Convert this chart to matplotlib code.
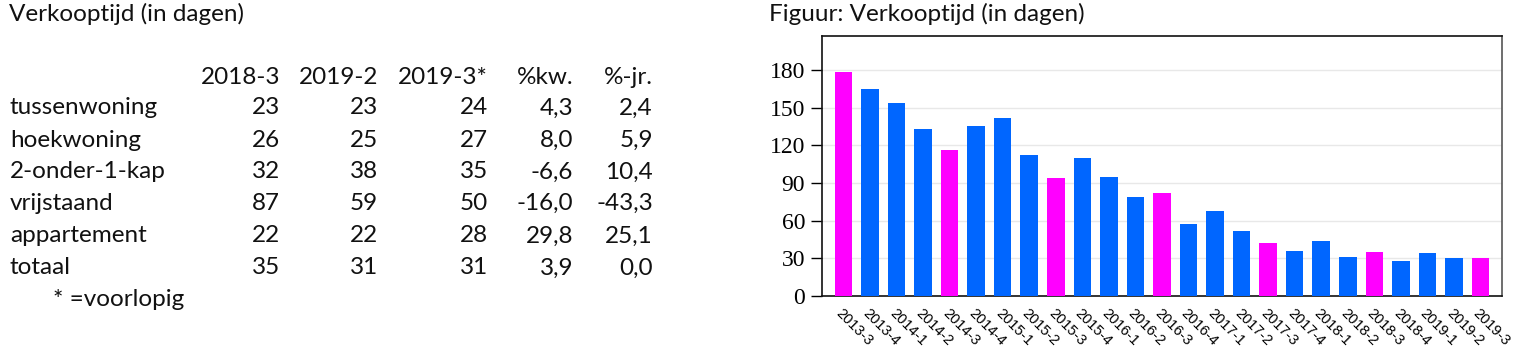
import matplotlib
matplotlib.use("Agg")
import matplotlib.pyplot as plt

# table data
table_cols = ["2018-3", "2019-2", "2019-3*", "%kw.", "%-jr."]
row_labels = ["tussenwoning", "hoekwoning", "2-onder-1-kap", "vrijstaand", "appartement", "totaal"]
col_2018_3 = ["23", "26", "32", "87", "22", "35"]
col_2019_2 = ["23", "25", "38", "59", "22", "31"]
col_2019_3 = ["24", "27", "35", "50", "28", "31"]
col_kw = ["4,3", "8,0", "-6,6", "-16,0", "29,8", "3,9"]
col_jr = ["2,4", "5,9", "10,4", "-43,3", "25,1", "0,0"]

# chart data
quarters = ["2013-3", "2013-4", "2014-1", "2014-2", "2014-3", "2014-4", "2015-1",
            "2015-2", "2015-3", "2015-4", "2016-1", "2016-2", "2016-3", "2016-4",
            "2017-1", "2017-2", "2017-3", "2017-4", "2018-1", "2018-2", "2018-3",
            "2018-4", "2019-1", "2019-2", "2019-3"]
days = [178, 165, 154, 133, 116, 135, 142, 112, 94, 110, 95, 79, 82, 57,
        68, 52, 42, 36, 44, 31, 35, 28, 34, 30, 30]
yticks = [0, 30, 60, 90, 120, 150, 180]

BLUE = "#0066ff"
MAGENTA = "#ff00ff"

W, H = 1516, 351
fig = plt.figure(figsize=(W / 100, H / 100), dpi=100)


def px(x, y):
    return x / W, 1 - y / H


tfont = dict(family=["Lato", "DejaVu Sans"], fontsize=17.5, color="#111111")

# ------- left: table
fig.text(*px(9, 14), "Verkooptijd (in dagen)", ha="left", va="center", **tfont)

col_x = [280, 378, 488, 573, 653]
col_values = [col_2018_3, col_2019_2, col_2019_3, col_kw, col_jr]
row_y = [108, 140, 172, 203, 236, 268]

for cx, name in zip(col_x, table_cols):
    fig.text(*px(cx, 77), name, ha="right", va="center", **tfont)

for ry, label in zip(row_y, row_labels):
    fig.text(*px(10, ry), label, ha="left", va="center", **tfont)

for cx, vals in zip(col_x, col_values):
    for ry, v in zip(row_y, vals):
        fig.text(*px(cx, ry), v, ha="right", va="center", **tfont)

fig.text(*px(53, 300), "* =voorlopig", ha="left", va="center", **tfont)

# ------- right: bar chart
fig.text(*px(769, 14), "Figuur: Verkooptijd (in dagen)", ha="left", va="center", **tfont)

left, right, top, bottom = 821.7, 1501.7, 36, 296
ax = fig.add_axes([left / W, 1 - bottom / H, (right - left) / W, (bottom - top) / H])

colors = [MAGENTA if q.endswith("-3") else BLUE for q in quarters]
x = list(range(len(quarters)))
ax.bar(x, days, width=0.66, color=colors, zorder=3)

ax.set_xlim(-0.82, len(quarters) - 1 + 0.8)
ax.set_ylim(0, 207)
ax.set_yticks(yticks)
ax.set_yticklabels([str(t) for t in yticks], family="Liberation Serif", fontsize=17)
ax.tick_params(axis="y", direction="out", length=8, width=1, pad=4)
ax.grid(axis="y", color="#e8e8e8", linewidth=1, zorder=0)

ax.set_xticks(x)
ax.set_xticklabels(quarters, rotation=-45, ha="left", va="top",
                   rotation_mode="anchor", family="Liberation Sans", fontsize=10.5)
ax.tick_params(axis="x", length=0, pad=7)

for s in ax.spines.values():
    s.set_color("#111111")
    s.set_linewidth(1.2)
ax.spines["right"].set_color("#555555")

fig.savefig("out.png", dpi=100)
